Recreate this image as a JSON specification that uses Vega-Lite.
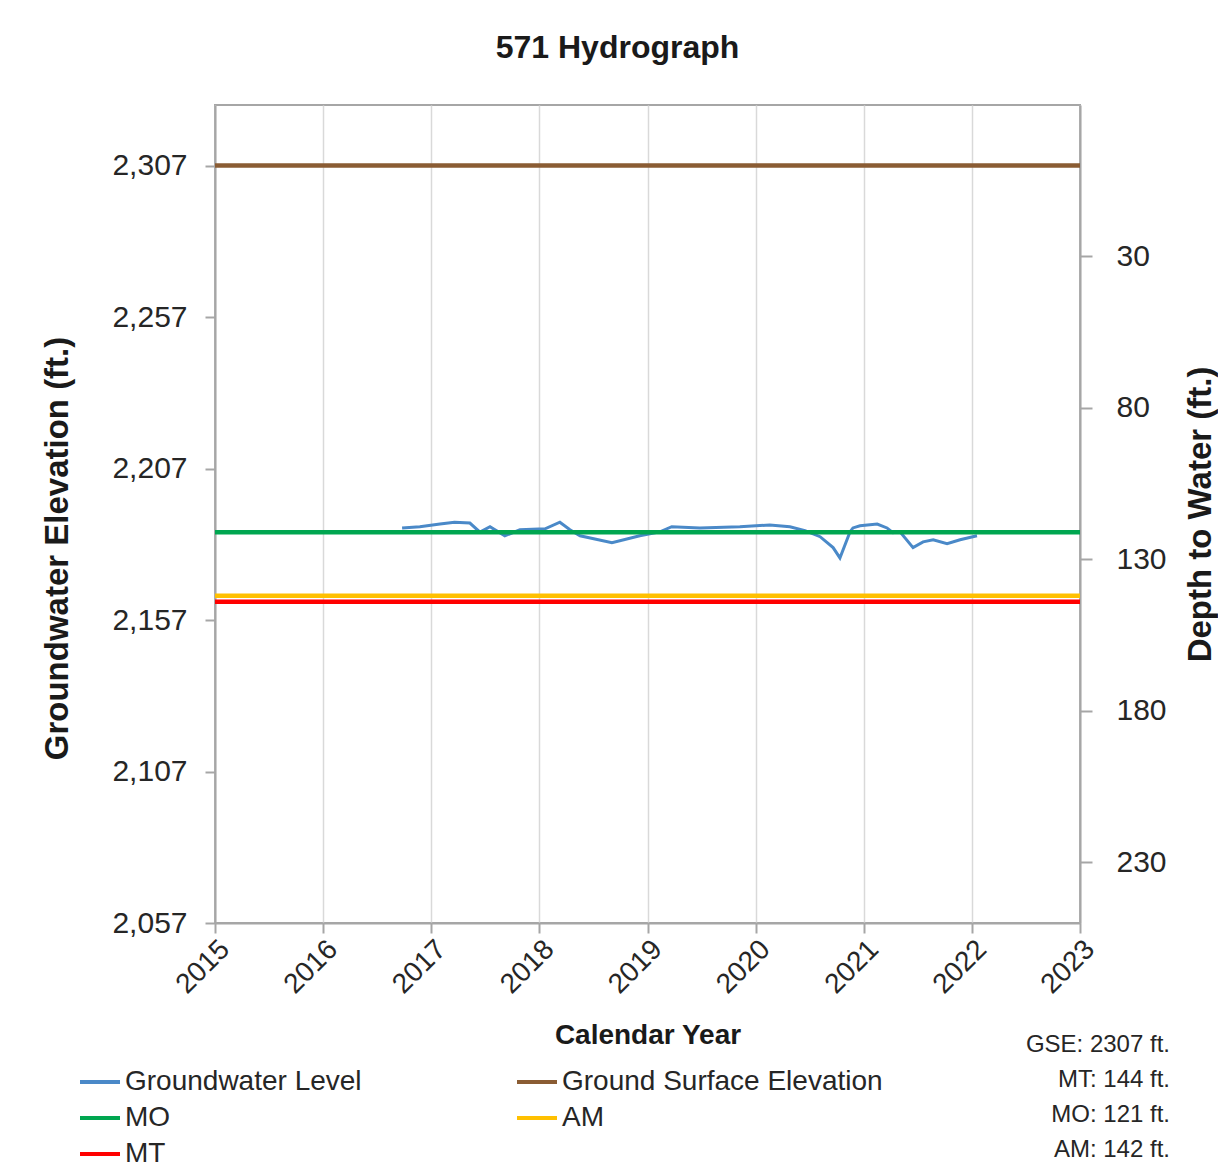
{
  "$schema": "https://vega.github.io/schema/vega-lite/v6.json",
  "width": 865,
  "height": 818,
  "autosize": {"type": "none"},
  "padding": {"left": 215, "top": 105, "right": 138, "bottom": 253},
  "background": "white",
  "title": {"text": "571 Hydrograph", "fontSize": 32, "font": "Liberation Sans", "fontWeight": "bold", "color": "#1a1a1a", "anchor": "middle", "dx": -30, "offset": 40},
  "config": {
    "view": {"stroke": "#a6a6a6", "strokeWidth": 2},
    "font": "Liberation Sans",
    "axis": {"labelFont": "Liberation Sans", "titleFont": "Liberation Sans", "labelColor": "#262626", "titleColor": "#1a1a1a", "domainColor": "#a6a6a6", "tickColor": "#a6a6a6", "domainWidth": 2, "tickWidth": 2, "gridColor": "#d9d9d9", "gridWidth": 1.5},
    "legend": {"labelFont": "Liberation Sans", "labelColor": "#262626"}
  },
  "layer": [
    {
      "data": {"values": [
        {"date": "2016-09-24", "elevation": 2187.4},
        {"date": "2016-11-23", "elevation": 2187.8},
        {"date": "2017-01-30", "elevation": 2188.7},
        {"date": "2017-03-20", "elevation": 2189.3},
        {"date": "2017-05-11", "elevation": 2189.0},
        {"date": "2017-06-14", "elevation": 2186.0},
        {"date": "2017-07-18", "elevation": 2187.8},
        {"date": "2017-09-06", "elevation": 2184.8},
        {"date": "2017-10-27", "elevation": 2186.8},
        {"date": "2018-01-20", "elevation": 2187.1},
        {"date": "2018-03-11", "elevation": 2189.3},
        {"date": "2018-04-14", "elevation": 2186.8},
        {"date": "2018-05-18", "elevation": 2184.8},
        {"date": "2018-09-03", "elevation": 2182.5},
        {"date": "2018-12-06", "elevation": 2184.8},
        {"date": "2019-02-12", "elevation": 2186.1},
        {"date": "2019-03-24", "elevation": 2187.8},
        {"date": "2019-06-27", "elevation": 2187.4},
        {"date": "2019-11-09", "elevation": 2187.8},
        {"date": "2020-02-18", "elevation": 2188.4},
        {"date": "2020-04-26", "elevation": 2187.8},
        {"date": "2020-06-16", "elevation": 2186.5},
        {"date": "2020-08-06", "elevation": 2184.5},
        {"date": "2020-09-19", "elevation": 2180.9},
        {"date": "2020-10-12", "elevation": 2177.5},
        {"date": "2020-11-15", "elevation": 2186.1},
        {"date": "2020-11-25", "elevation": 2187.4},
        {"date": "2020-12-19", "elevation": 2188.1},
        {"date": "2021-02-15", "elevation": 2188.7},
        {"date": "2021-03-20", "elevation": 2187.4},
        {"date": "2021-04-09", "elevation": 2185.8},
        {"date": "2021-05-03", "elevation": 2186.1},
        {"date": "2021-06-16", "elevation": 2180.9},
        {"date": "2021-07-20", "elevation": 2182.8},
        {"date": "2021-08-23", "elevation": 2183.5},
        {"date": "2021-10-09", "elevation": 2182.2},
        {"date": "2021-11-22", "elevation": 2183.5},
        {"date": "2022-01-18", "elevation": 2184.8}
      ]},
      "mark": {"type": "line", "strokeWidth": 3},
      "encoding": {
        "x": {
          "field": "date", "type": "temporal",
          "scale": {"domain": [{"year": 2015, "month": 1, "date": 1}, {"year": 2023, "month": 1, "date": 1}]},
          "axis": {
            "values": [{"year": 2015, "month": 1, "date": 1}, {"year": 2016, "month": 1, "date": 1}, {"year": 2017, "month": 1, "date": 1}, {"year": 2018, "month": 1, "date": 1}, {"year": 2019, "month": 1, "date": 1}, {"year": 2020, "month": 1, "date": 1}, {"year": 2021, "month": 1, "date": 1}, {"year": 2022, "month": 1, "date": 1}, {"year": 2023, "month": 1, "date": 1}],
            "format": "%Y", "labelAngle": -45, "labelFontSize": 28, "tickSize": 10, "labelPadding": 2,
            "grid": true, "title": "Calendar Year", "titleFontSize": 28, "titleFontWeight": "bold", "titleY": 98
          }
        },
        "y": {
          "field": "elevation", "type": "quantitative",
          "scale": {"domain": [2057, 2327], "nice": false, "zero": false},
          "axis": {
            "values": [2057, 2107, 2157, 2207, 2257, 2307], "format": ",d",
            "labelFontSize": 30, "tickSize": 10, "labelPadding": 18, "grid": false,
            "title": "Groundwater Elevation (ft.)", "titleFontSize": 33, "titleFontWeight": "bold", "titlePadding": 37, "titleY": 443
          }
        },
        "color": {
          "datum": "Groundwater Level", "type": "nominal",
          "scale": {"domain": ["Groundwater Level", "MO", "MT", "Ground Surface Elevation", "AM"], "range": ["#4a89c8", "#00a650", "#ff0000", "#8a5c33", "#ffc000"]},
          "legend": {"orient": "none", "legendX": -137, "legendY": 955, "columns": 2, "title": null, "symbolType": "stroke", "symbolSize": 1600, "symbolStrokeWidth": 4, "labelFontSize": 28, "labelOffset": 3, "labelLimit": 600, "columnPadding": 147, "rowPadding": -4}
        }
      }
    },
    {
      "data": {"values": [
        {"series": "Ground Surface Elevation", "depth": 0},
        {"series": "MO", "depth": 121},
        {"series": "AM", "depth": 142},
        {"series": "MT", "depth": 144}
      ]},
      "mark": {"type": "rule", "strokeWidth": 4.5},
      "encoding": {
        "y": {
          "field": "depth", "type": "quantitative",
          "scale": {"domain": [-20, 250], "reverse": true, "nice": false, "zero": false},
          "axis": {
            "orient": "right", "values": [30, 80, 130, 180, 230],
            "labelFontSize": 30, "tickSize": 12, "labelPadding": 24, "grid": false,
            "title": "Depth to Water (ft.)", "titleFontSize": 33, "titleFontWeight": "bold", "titleAngle": 270, "titleBaseline": "top", "titlePadding": 18
          }
        },
        "color": {
          "field": "series", "type": "nominal",
          "scale": {"domain": ["Groundwater Level", "MO", "MT", "Ground Surface Elevation", "AM"], "range": ["#4a89c8", "#00a650", "#ff0000", "#8a5c33", "#ffc000"]},
          "legend": {"orient": "none", "legendX": -137, "legendY": 955, "columns": 2, "title": null, "symbolType": "stroke", "symbolSize": 1600, "symbolStrokeWidth": 4, "labelFontSize": 28, "labelOffset": 3, "labelLimit": 600, "columnPadding": 147, "rowPadding": -4}
        }
      }
    },
    {
      "data": {"values": [
        {"note": "GSE: 2307 ft."},
        {"note": "MT: 144 ft."},
        {"note": "MO: 121 ft."},
        {"note": "AM: 142 ft."}
      ]},
      "mark": {"type": "point", "opacity": 0},
      "encoding": {
        "shape": {
          "field": "note", "type": "nominal",
          "scale": {"domain": ["GSE: 2307 ft.", "MT: 144 ft.", "MO: 121 ft.", "AM: 142 ft."]},
          "legend": {"orient": "none", "legendX": 778, "legendY": 928, "title": null, "symbolSize": 1, "symbolOpacity": 0, "symbolStrokeWidth": 0, "labelAlign": "right", "labelOffset": 153, "labelFontSize": 24, "rowPadding": 11, "labelLimit": 400}
        }
      }
    }
  ],
  "resolve": {"scale": {"y": "independent"}}
}
